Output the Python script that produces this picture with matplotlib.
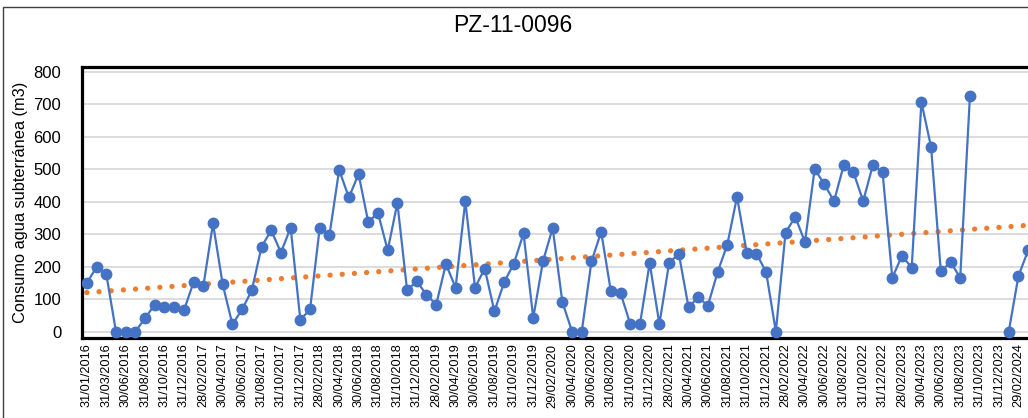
import numpy as np
import matplotlib.pyplot as plt
from matplotlib.patches import Rectangle

# Monthly groundwater consumption (m3), categories in order; None = no reading
values = [150, 198, 177, 0, 0, 0, 41, 83, 77, 77,
          65, 152, 139, 333, 145, 22, 68, 127, 261, 312,
          243, 320, 36, 68, 320, 297, 498, 413, 485, 337,
          366, 250, 396, 127, 155, 113, 83, 208, 135, 402,
          135, 194, 62, 152, 209, 302, 42, 216, 319, 91,
          0, 0, 216, 307, 124, 118, 23, 23, 211, 23,
          211, 240, 75, 105, 80, 183, 268, 415, 243, 240,
          183, 0, 305, 353, 276, 501, 453, 402, 513, 490,
          402, 513, 490, 166, 233, 197, 707, 568, 185, 214,
          166, 726, None, None, None, 0, 171, 250]

# every second category is labelled
tick_labels = ["31/01/2016", "31/03/2016", "30/06/2016", "31/08/2016", "31/10/2016", "31/12/2016",
               "28/02/2017", "30/04/2017", "30/06/2017", "31/08/2017", "31/10/2017", "31/12/2017",
               "28/02/2018", "30/04/2018", "30/06/2018", "31/08/2018", "31/10/2018", "31/12/2018",
               "28/02/2019", "30/04/2019", "30/06/2019", "31/08/2019", "31/10/2019", "31/12/2019",
               "29/02/2020", "30/04/2020", "30/06/2020", "31/08/2020", "31/10/2020", "31/12/2020",
               "28/02/2021", "30/04/2021", "30/06/2021", "31/08/2021", "31/10/2021", "31/12/2021",
               "28/02/2022", "30/04/2022", "30/06/2022", "31/08/2022", "31/10/2022", "31/12/2022",
               "28/02/2023", "30/04/2023", "30/06/2023", "31/08/2023", "31/10/2023", "31/12/2023",
               "29/02/2024"]

y_ticks = [0, 100, 200, 300, 400, 500, 600, 700, 800]

fonts = ['Liberation Sans', 'DejaVu Sans']

y = np.array([np.nan if v is None else v for v in values], dtype=float)
x = np.arange(len(y))

# linear trendline fitted on the available readings
ok = ~np.isnan(y)
slope, intercept = np.polyfit(x[ok], y[ok], 1)
trend = slope * x + intercept

fig = plt.figure(figsize=(10.28, 4.18), dpi=100)
ax = fig.add_axes([82 / 1028, 80 / 418, 951 / 1028, 271 / 418])

ax.plot(x, trend, color='#ED7D31', linewidth=3.8, linestyle=(0, (0.01, 2.3)),
        dash_capstyle='round', zorder=2)
ax.plot(x, y, color='#4472C4', linewidth=1.6, marker='o', markersize=7.5,
        markerfacecolor='#4472C4', markeredgecolor='#4472C4', zorder=3)

ax.set_xlim(-0.5, len(y) - 0.5)
ax.set_ylim(-20, 815)
ax.set_yticks(y_ticks)
ax.set_yticklabels([str(t) for t in y_ticks], family=fonts, fontsize=12)
ax.set_xticks(x[::2])
ax.set_xticklabels(tick_labels, rotation=90, family=fonts, fontsize=9.2)
ax.tick_params(axis='y', length=0, pad=15)
ax.tick_params(axis='x', length=0, pad=4)

ax.grid(axis='y', color='#D9D9D9', linewidth=1.3)
ax.set_axisbelow(True)
for s in ax.spines.values():
    s.set_linewidth(2.3)
    s.set_color('black')

ax.set_ylabel("Consumo agua subterránea (m3)", family=fonts, fontsize=11.8, labelpad=4)
fig.text(513 / 1028, 1 - 25 / 418, "PZ-11-0096", ha='center', va='center',
         family=fonts, fontsize=16.5)

# outer chart-area frame (cut by the screenshot)
fig.patches.append(Rectangle((3 / 1028, -0.1), 1.2, (418 - 7) / 418 + 0.1,
                             transform=fig.transFigure, fill=False,
                             edgecolor='#404040', linewidth=1))

fig.savefig('out.png', dpi=100)
